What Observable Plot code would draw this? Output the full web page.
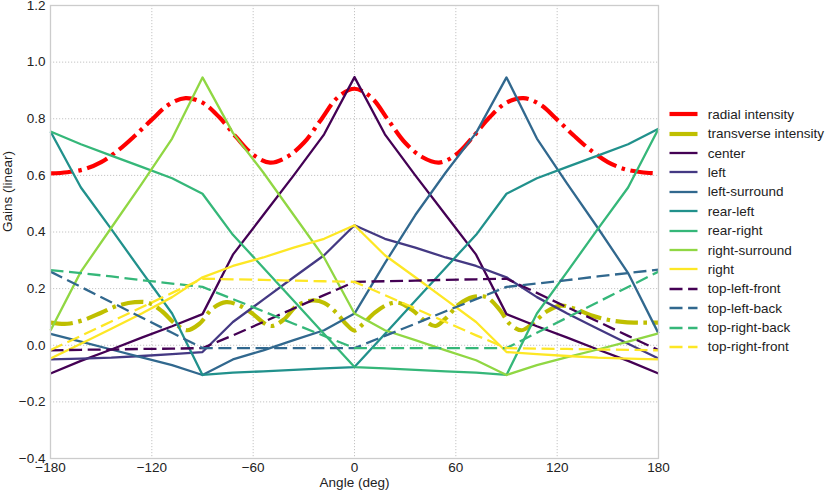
<!DOCTYPE html>
<html><head><meta charset="utf-8">
<script src="https://cdn.jsdelivr.net/npm/d3@7"></script>
<script src="https://cdn.jsdelivr.net/npm/@observablehq/plot@0.6"></script>
<style>
body{margin:0;background:#fff;font-family:"Liberation Sans",Arial,sans-serif}
#wrap{position:relative;width:831px;height:493px;overflow:hidden}
#legend{position:absolute;left:668px;top:104.6px;font-size:13.5px;color:#222}
.row{display:flex;align-items:center;height:19.4px;white-space:nowrap}
.row svg{margin-right:9.7px;flex:none}
</style></head><body><div id="wrap"><div id="legend"></div></div>
<script>
const xTicks = [-180,-120,-60,0,60,120,180];
const yTicks = [-0.4,-0.2,0,0.2,0.4,0.6,0.8,1.0,1.2];

const radialAngles = d3.range(-180,181,10);
const radial = [0.607,0.611,0.622,0.647,0.688,0.74,0.797,0.85,0.873,0.857,0.805,0.735,0.673,0.645,0.665,0.715,0.795,0.875,0.906,0.875,0.795,0.715,0.665,0.645,0.673,0.735,0.805,0.857,0.873,0.85,0.797,0.74,0.688,0.647,0.622,0.611,0.607];

const transverseAngles = [-180,-170,-160,-150,-140,-130,-122,-114,-106,-99,-92,-84,-76,-68,-60,-54,-49,-42,-34,-25,-18,-10,-5,0,5,12,20,26,34,42,48,54,62,70,78,86,92,99,106,114,122,130,140,150,160,170,180];
const transverse = [0.08,0.076,0.09,0.115,0.14,0.152,0.15,0.12,0.075,0.053,0.075,0.13,0.152,0.14,0.11,0.08,0.068,0.09,0.14,0.158,0.15,0.11,0.075,0.052,0.075,0.115,0.145,0.15,0.125,0.085,0.068,0.095,0.145,0.17,0.17,0.125,0.075,0.053,0.08,0.12,0.14,0.13,0.106,0.09,0.082,0.08,0.08];

const angles = [-180,-162,-144,-126,-108,-90,-72,-54,-36,-18,0,18,36,54,72,90,108,126,144,162,180];
const center = [-0.10,-0.055,-0.015,0.027,0.067,0.11,0.32,0.46,0.60,0.745,0.947,0.745,0.60,0.46,0.32,0.11,0.067,0.027,-0.015,-0.055,-0.10];
const left = [-0.05,-0.047,-0.044,-0.038,-0.031,-0.024,0.082,0.161,0.24,0.318,0.424,0.376,0.345,0.31,0.28,0.24,0.17,0.112,0.058,0.005,-0.047];
const leftSurround = [0.04,0.013,-0.015,-0.043,-0.07,-0.105,-0.05,-0.018,0.018,0.053,0.112,0.29,0.46,0.61,0.75,0.946,0.73,0.57,0.415,0.255,0.042];
const rearLeft = [0.755,0.557,0.41,0.26,0.112,-0.105,-0.097,-0.092,-0.087,-0.082,-0.077,0.04,0.157,0.274,0.39,0.535,0.59,0.63,0.67,0.71,0.765];
const rearRight = [0.755,0.71,0.67,0.63,0.59,0.535,0.39,0.274,0.157,0.04,-0.077,-0.082,-0.087,-0.092,-0.097,-0.105,0.112,0.26,0.41,0.557,0.765];
const rightSurround = [0.052,0.26,0.415,0.57,0.73,0.946,0.75,0.61,0.46,0.31,0.112,0.053,0.018,-0.018,-0.053,-0.105,-0.07,-0.042,-0.015,0.013,0.042];
const right = [-0.047,0.005,0.058,0.112,0.17,0.24,0.28,0.31,0.345,0.376,0.424,0.318,0.24,0.161,0.082,-0.024,-0.031,-0.038,-0.044,-0.047,-0.05];
const topLeftFront = [-0.018,-0.016,-0.015,-0.013,-0.012,-0.01,0.035,0.082,0.13,0.177,0.224,0.226,0.228,0.231,0.233,0.235,0.185,0.134,0.084,0.033,-0.017];
const topLeftBack = [0.26,0.206,0.152,0.098,0.044,-0.01,-0.01,-0.01,-0.01,-0.01,-0.01,0.033,0.076,0.12,0.163,0.206,0.218,0.23,0.243,0.255,0.267];
const topRightBack = [0.265,0.255,0.243,0.23,0.218,0.206,0.163,0.12,0.076,0.033,-0.01,-0.01,-0.01,-0.01,-0.01,-0.01,0.044,0.098,0.152,0.206,0.26];
const topRightFront = [-0.017,0.033,0.084,0.134,0.185,0.235,0.233,0.231,0.228,0.226,0.224,0.177,0.13,0.082,0.035,-0.01,-0.012,-0.013,-0.015,-0.016,-0.018];

const DASHDOT = "22.4,5.6,3.5,5.6";
const DASH = "13,5.6";
const series = [
  {name:"radial intensity", xs:radialAngles, ys:radial, color:"#ff0000", w:4.2, dash:DASHDOT, curve:"catmull-rom"},
  {name:"transverse intensity", xs:transverseAngles, ys:transverse, color:"#bfbf00", w:4.2, dash:DASHDOT, curve:"catmull-rom"},
  {name:"center", xs:angles, ys:center, color:"#440154", w:2.3},
  {name:"left", xs:angles, ys:left, color:"#443983", w:2.3},
  {name:"left-surround", xs:angles, ys:leftSurround, color:"#31688e", w:2.3},
  {name:"rear-left", xs:angles, ys:rearLeft, color:"#21918c", w:2.3},
  {name:"rear-right", xs:angles, ys:rearRight, color:"#35b779", w:2.3},
  {name:"right-surround", xs:angles, ys:rightSurround, color:"#90d743", w:2.3},
  {name:"right", xs:angles, ys:right, color:"#fde725", w:2.3},
  {name:"top-left-front", xs:angles, ys:topLeftFront, color:"#440154", w:2.3, dash:DASH},
  {name:"top-left-back", xs:angles, ys:topLeftBack, color:"#31688e", w:2.3, dash:DASH},
  {name:"top-right-back", xs:angles, ys:topRightBack, color:"#35b779", w:2.3, dash:DASH},
  {name:"top-right-front", xs:angles, ys:topRightFront, color:"#fde725", w:2.3, dash:DASH}
];

const lineMarks = series.map(s => {
  const rows = s.xs.map((a,i) => ({angle:a, value:s.ys[i]}));
  return Plot.line(rows, {x:"angle", y:"value", stroke:s.color, strokeWidth:s.w,
    strokeDasharray:s.dash || null, strokeLinecap:"butt", strokeLinejoin:"round",
    curve:s.curve || "linear"});
});

const chart = Plot.plot({
  width:831, height:493,
  marginLeft:50, marginRight:173, marginTop:5, marginBottom:35,
  style:{fontFamily:"Liberation Sans, Arial, sans-serif", fontSize:"13.5px", color:"#222", background:"white"},
  x:{domain:[-180,180], ticks:xTicks, tickSize:0, tickPadding:4, tickFormat:d3.format("d"), label:null},
  y:{domain:[-0.4,1.2], ticks:yTicks, tickSize:0, tickPadding:5, tickFormat:d3.format(".1f"), label:null},
  marks:[
    Plot.ruleX(xTicks, {stroke:"#c4c4c4", strokeWidth:1, strokeDasharray:"1.2,1.8"}),
    Plot.ruleY(yTicks, {stroke:"#c4c4c4", strokeWidth:1, strokeDasharray:"1.2,1.8"}),
    ...lineMarks,
    Plot.frame({stroke:"#cccccc", strokeWidth:1.3}),
    Plot.text(["Angle (deg)"], {frameAnchor:"bottom", dy:28, fontSize:13.5, fill:"#222"}),
    Plot.text(["Gains (linear)"], {frameAnchor:"left", dx:-43, rotate:-90, fontSize:13.5, fill:"#222"})
  ]
});
const wrap = document.getElementById("wrap");
wrap.insertBefore(chart, wrap.firstChild);

const legend = document.getElementById("legend");
const NS = "http://www.w3.org/2000/svg";
series.forEach(s => {
  const row = document.createElement("div");
  row.className = "row";
  const svg = document.createElementNS(NS, "svg");
  svg.setAttribute("width", 30); svg.setAttribute("height", 10);
  const ln = document.createElementNS(NS, "line");
  ln.setAttribute("x1", 1.5); ln.setAttribute("x2", 29.5);
  ln.setAttribute("y1", 5); ln.setAttribute("y2", 5);
  ln.setAttribute("stroke", s.color);
  ln.setAttribute("stroke-width", s.w);
  if (s.dash === DASH) ln.setAttribute("stroke-dasharray", DASH);
  svg.appendChild(ln);
  row.appendChild(svg);
  const t = document.createElement("span");
  t.textContent = s.name;
  row.appendChild(t);
  legend.appendChild(row);
});
</script></body></html>
